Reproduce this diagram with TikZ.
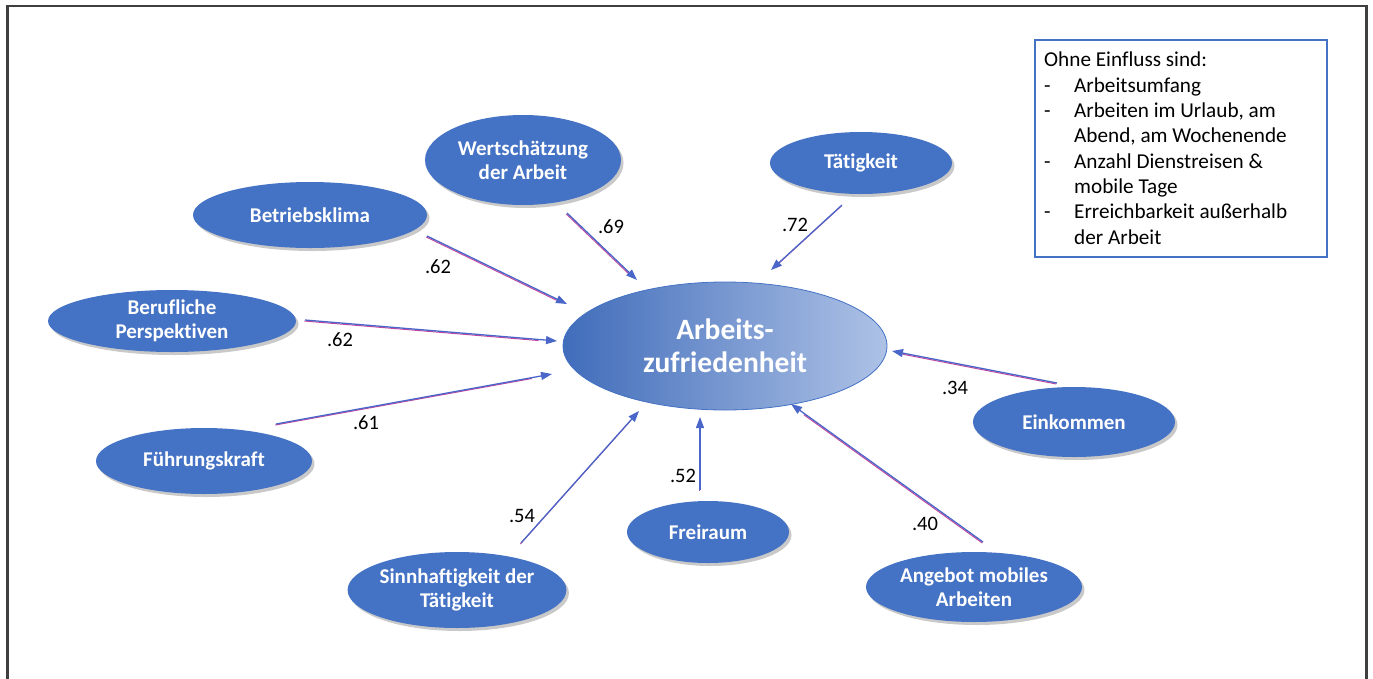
\documentclass[tikz,border=0pt]{standalone}
\usepackage{fontspec}
\setmainfont{Carlito}[Ligatures=NoCommon]
\usetikzlibrary{shapes.geometric,arrows.meta,shadows,calc}
\definecolor{nodeblue}{HTML}{4472C4}
\definecolor{lightblue}{HTML}{AEC2E6}
\definecolor{arrowblue}{HTML}{4A66C8}
\definecolor{arrowpink}{HTML}{C2459E}
\definecolor{framegray}{HTML}{3F3F3F}
\tikzset{
  oval/.style={ellipse, fill=nodeblue, draw=none, inner sep=0pt, align=center,
    text=white, font=\fontsize{21}{24.5}\selectfont\bfseries,
    drop shadow={shadow xshift=2.5pt, shadow yshift=-3pt, opacity=0.3, fill=black!70}},
  infl/.style={draw=arrowblue, line width=1.3pt, -{Triangle[length=11pt,width=8pt]}},
  inflshade/.style={draw=arrowpink, line width=1pt},
  coef/.style={font=\fontsize{20.5}{22}\selectfont, text=black, inner sep=0pt},
}
\begin{document}
\begin{tikzpicture}[x=1pt,y=-1pt]
\useasboundingbox (0,0) rectangle (1373,678);
\draw[framegray, line width=2.4pt] (7.5,6) rectangle (1366.5,700);

% central node
\node[ellipse, minimum width=324pt, minimum height=128pt, inner sep=0pt,
  left color=nodeblue!95!black, right color=lightblue, draw=nodeblue, line width=0.8pt,
  text=white, align=center, font=\fontsize{29.5}{33}\selectfont\bfseries] (az) at (725,346) {Arbeits-\\zufriedenheit};

% outer nodes
\node[oval, minimum width=196pt, minimum height=90pt] (ws) at (523,160) {Wertschätzung\\der Arbeit};
\node[oval, minimum width=182pt, minimum height=62pt] (ta) at (861,163) {Tätigkeit};
\node[oval, minimum width=234pt, minimum height=66pt] (bk) at (310,215) {Betriebsklima};
\node[oval, minimum width=248pt, minimum height=62pt] (bp) at (172,321) {Berufliche\\Perspektiven};
\node[oval, minimum width=216pt, minimum height=66pt] (fk) at (204,461) {Führungskraft};
\node[oval, minimum width=202pt, minimum height=70pt] (ek) at (1074,422) {Einkommen};
\node[oval, minimum width=162pt, minimum height=62pt] (fr) at (708,532) {Freiraum};
\node[oval, minimum width=206pt, minimum height=76pt] (st) at (457,590) {Sinnhaftigkeit der\\Tätigkeit};
\node[oval, minimum width=216pt, minimum height=70pt] (am) at (974,587) {Angebot mobiles\\Arbeiten};

% info box
\node[draw=nodeblue, line width=1.4pt, minimum width=292pt, minimum height=217pt, inner sep=0pt] (box) at (1181,148.5) {};
\node[anchor=north west, inner sep=0pt, font=\fontsize{21.2}{25.3}\selectfont] (boxtext) at (1044,49)
{\begin{tabular}{@{}p{30pt}@{}l@{}}
\multicolumn{2}{@{}l@{}}{Ohne Einfluss sind:}\\
- & Arbeitsumfang\\
- & Arbeiten im Urlaub, am\\
  & Abend, am Wochenende\\
- & Anzahl Dienstreisen \&\\
  & mobile Tage\\
- & Erreichbarkeit außerhalb\\
  & der Arbeit
\end{tabular}};

% arrow end points
\coordinate (bk1) at (427,236); \coordinate (bk2) at (567,304);
\coordinate (ws1) at (567,213); \coordinate (ws2) at (637,280);
\coordinate (ta1) at (842,205); \coordinate (ta2) at (771,270);
\coordinate (bp1) at (305,320); \coordinate (bp2) at (557,341);
\coordinate (fk1) at (276,424); \coordinate (fk2) at (552,374);
\coordinate (st1) at (521,543); \coordinate (st2) at (639,411);
\coordinate (fr1) at (700,490); \coordinate (fr2) at (700,417);
\coordinate (am1) at (983,542); \coordinate (am2) at (791,404);
\coordinate (ek1) at (1057,383); \coordinate (ek2) at (892,351);

\foreach \s/\e in {bk1/bk2, ws1/ws2, ta1/ta2, bp1/bp2, fk1/fk2, st1/st2, fr1/fr2, am1/am2, ek1/ek2}{
  \draw[inflshade] ([xshift=-0.7pt,yshift=-1pt]\s) -- ([xshift=-0.7pt,yshift=-1pt]$(\s)!0.93!(\e)$);
  \draw[infl] (\s) -- (\e);
}

% coefficients
\node[coef] (c1) at (438,267) {.62};
\node[coef] (c2) at (611,227) {.69};
\node[coef] (c3) at (795,225) {.72};
\node[coef] (c4) at (340,340) {.62};
\node[coef] (c5) at (366,423) {.61};
\node[coef] (c6) at (522,516) {.54};
\node[coef] (c7) at (683,476) {.52};
\node[coef] (c8) at (925,524) {.40};
\node[coef] (c9) at (955,388) {.34};
\end{tikzpicture}
\end{document}
